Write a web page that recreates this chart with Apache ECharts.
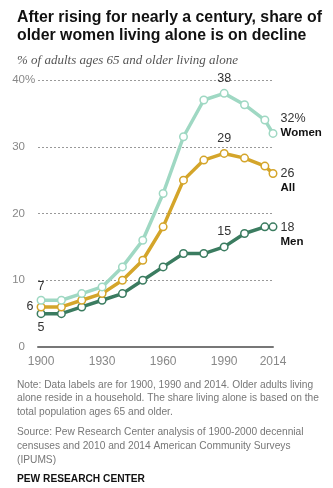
<!DOCTYPE html>
<html>
<head>
<meta charset="utf-8">
<script src="https://cdn.jsdelivr.net/npm/echarts@6/dist/echarts.min.js"></script>
<style>
  html, body { margin: 0; padding: 0; background: #fff; }
  #chart { width: 333px; height: 488px; }
</style>
</head>
<body>
<div id="chart"></div>
<script>
// Share of adults 65+ living alone, by census year
const years = [1900, 1910, 1920, 1930, 1940, 1950, 1960, 1970, 1980, 1990, 2000, 2010, 2014];
const women = [7, 7, 8, 9, 12, 16, 23, 31.5, 37, 38, 36.3, 34, 32];
const all   = [6, 6, 7, 8, 10, 13, 18, 25, 28, 29, 28.3, 27.1, 26];
const men   = [5, 5, 6, 7, 8, 10, 12, 14, 14, 15, 17, 18, 18];

const xTicks = [1900, 1930, 1960, 1990, 2014];
const yTicks = [0, 10, 20, 30, 40];

const seriesNames = ['Women', 'All', 'Men'];
const colors = { Women: '#9fd8c3', All: '#d4a52a', Men: '#3b7c60' };

const titleLines = ['After rising for nearly a century, share of', 'older women living alone is on decline'];
const subtitleText = '% of adults ages 65 and older living alone';
const noteText = 'Note: Data labels are for 1900, 1990 and 2014. Older adults living\nalone reside in a household. The share living alone is based on the\ntotal population ages 65 and older.';
const sourceText = 'Source: Pew Research Center analysis of 1900-2000 decennial\ncensuses and 2010 and 2014 American Community Surveys\n(IPUMS)';
const creditText = 'PEW RESEARCH CENTER';

const FONT = '"Liberation Sans", Arial, sans-serif';

// Size the headline so its first line fills the text column
function fitFontSize(text, weight, family, targetWidth) {
  const ctx = document.createElement('canvas').getContext('2d');
  ctx.font = weight + ' 100px ' + family;
  const w = ctx.measureText(text).width;
  return Math.min(18, 100 * targetWidth / w);
}
const titleSize = fitFontSize(titleLines[0], 'bold', FONT, 305);

// Label placement for the first point of each line
const firstLabelPos = { Women: 'top', All: 'left', Men: 'bottom' };
// Vertical shift of the two-line end labels
const endOffset = { Women: [0, -8], All: [0, 7], Men: [0, 8] };

function buildData(name, values) {
  const last = values.length - 1;
  return values.map((v, i) => {
    const item = { value: [years[i], v] };
    const yr = years[i];
    if (i === 0) {
      item.label = { show: true, position: firstLabelPos[name], distance: 3, formatter: String(Math.round(v)) };
    } else if (yr === 1990) {
      item.label = { show: true, position: 'top', distance: 4, formatter: String(Math.round(v)) };
    } else if (i === last) {
      const num = name === 'Women' ? Math.round(v) + '%' : String(Math.round(v));
      item.label = {
        show: true, position: 'right', distance: 3, offset: endOffset[name],
        formatter: num + '\n{b|' + name + '}', lineHeight: 14,
        rich: { b: { fontWeight: 'bold', fontSize: 11.5, color: '#111', fontFamily: FONT, lineHeight: 14 } }
      };
    }
    return item;
  });
}

const valuesByName = { Women: women, All: all, Men: men };

const chart = echarts.init(document.getElementById('chart'), null, { renderer: 'canvas' });

chart.setOption({
  animation: false,
  backgroundColor: '#fff',
  title: [
    { text: titleLines.join('\n'), left: 12, top: 3,
      textStyle: { fontFamily: FONT, fontWeight: 'bold', fontSize: titleSize, color: '#111', lineHeight: 18.3 } },
    { text: subtitleText, left: 12, top: 49,
      textStyle: { fontFamily: '"Liberation Serif", "DejaVu Serif", serif', fontStyle: 'italic', fontWeight: 'normal', fontSize: 13, color: '#555' } },
    { text: noteText, left: 12, top: 373,
      textStyle: { fontFamily: FONT, fontWeight: 'normal', fontSize: 10.2, color: '#777', lineHeight: 13.5 } },
    { text: sourceText, left: 12, top: 420,
      textStyle: { fontFamily: FONT, fontWeight: 'normal', fontSize: 10.2, color: '#777', lineHeight: 14 } },
    { text: creditText, left: 12, top: 469,
      textStyle: { fontFamily: FONT, fontWeight: 'bold', fontSize: 10.2, color: '#111' } }
  ],
  grid: { left: 38, right: 60, top: 80, bottom: 141 },
  xAxis: {
    type: 'value', min: 1898.5, max: 2014,
    axisLine: { show: true, lineStyle: { color: '#777', width: 2 } },
    axisTick: { show: false },
    splitLine: { show: false },
    axisLabel: {
      customValues: xTicks, margin: 9, color: '#888', fontSize: 12, fontFamily: FONT,
      formatter: v => String(v)
    }
  },
  yAxis: {
    type: 'value', min: 0, max: 40, interval: 10,
    axisLine: { show: false },
    axisTick: { show: false },
    splitLine: { show: true, lineStyle: { color: '#999', type: [2, 2], width: 1 } },
    axisLabel: { margin: 13, color: '#888', fontSize: 11.5, fontFamily: FONT, formatter: v => String(v) }
  },
  series: seriesNames.slice().reverse().map(name => ({
    name,
    type: 'line',
    data: buildData(name, valuesByName[name]),
    symbol: 'circle',
    symbolSize: 7.5,
    showAllSymbol: true,
    lineStyle: { color: colors[name], width: 3.5 },
    itemStyle: { color: '#fff', borderColor: colors[name], borderWidth: 1.5 },
    label: { color: '#333', fontSize: 12.5, fontFamily: FONT },
    emphasis: { disabled: true },
    z: 2
  }))
});

// "%" unit hangs after the top axis label
const topPt = chart.convertToPixel({ xAxisIndex: 0, yAxisIndex: 0 }, [1898.5, yTicks[yTicks.length - 1]]);
chart.setOption({
  graphic: [{
    type: 'text', x: topPt[0] - 13, y: topPt[1],
    style: { text: '%', fill: '#888', fontSize: 11.5, fontFamily: FONT, verticalAlign: 'middle', align: 'left' }
  }]
});
</script>
</body>
</html>
